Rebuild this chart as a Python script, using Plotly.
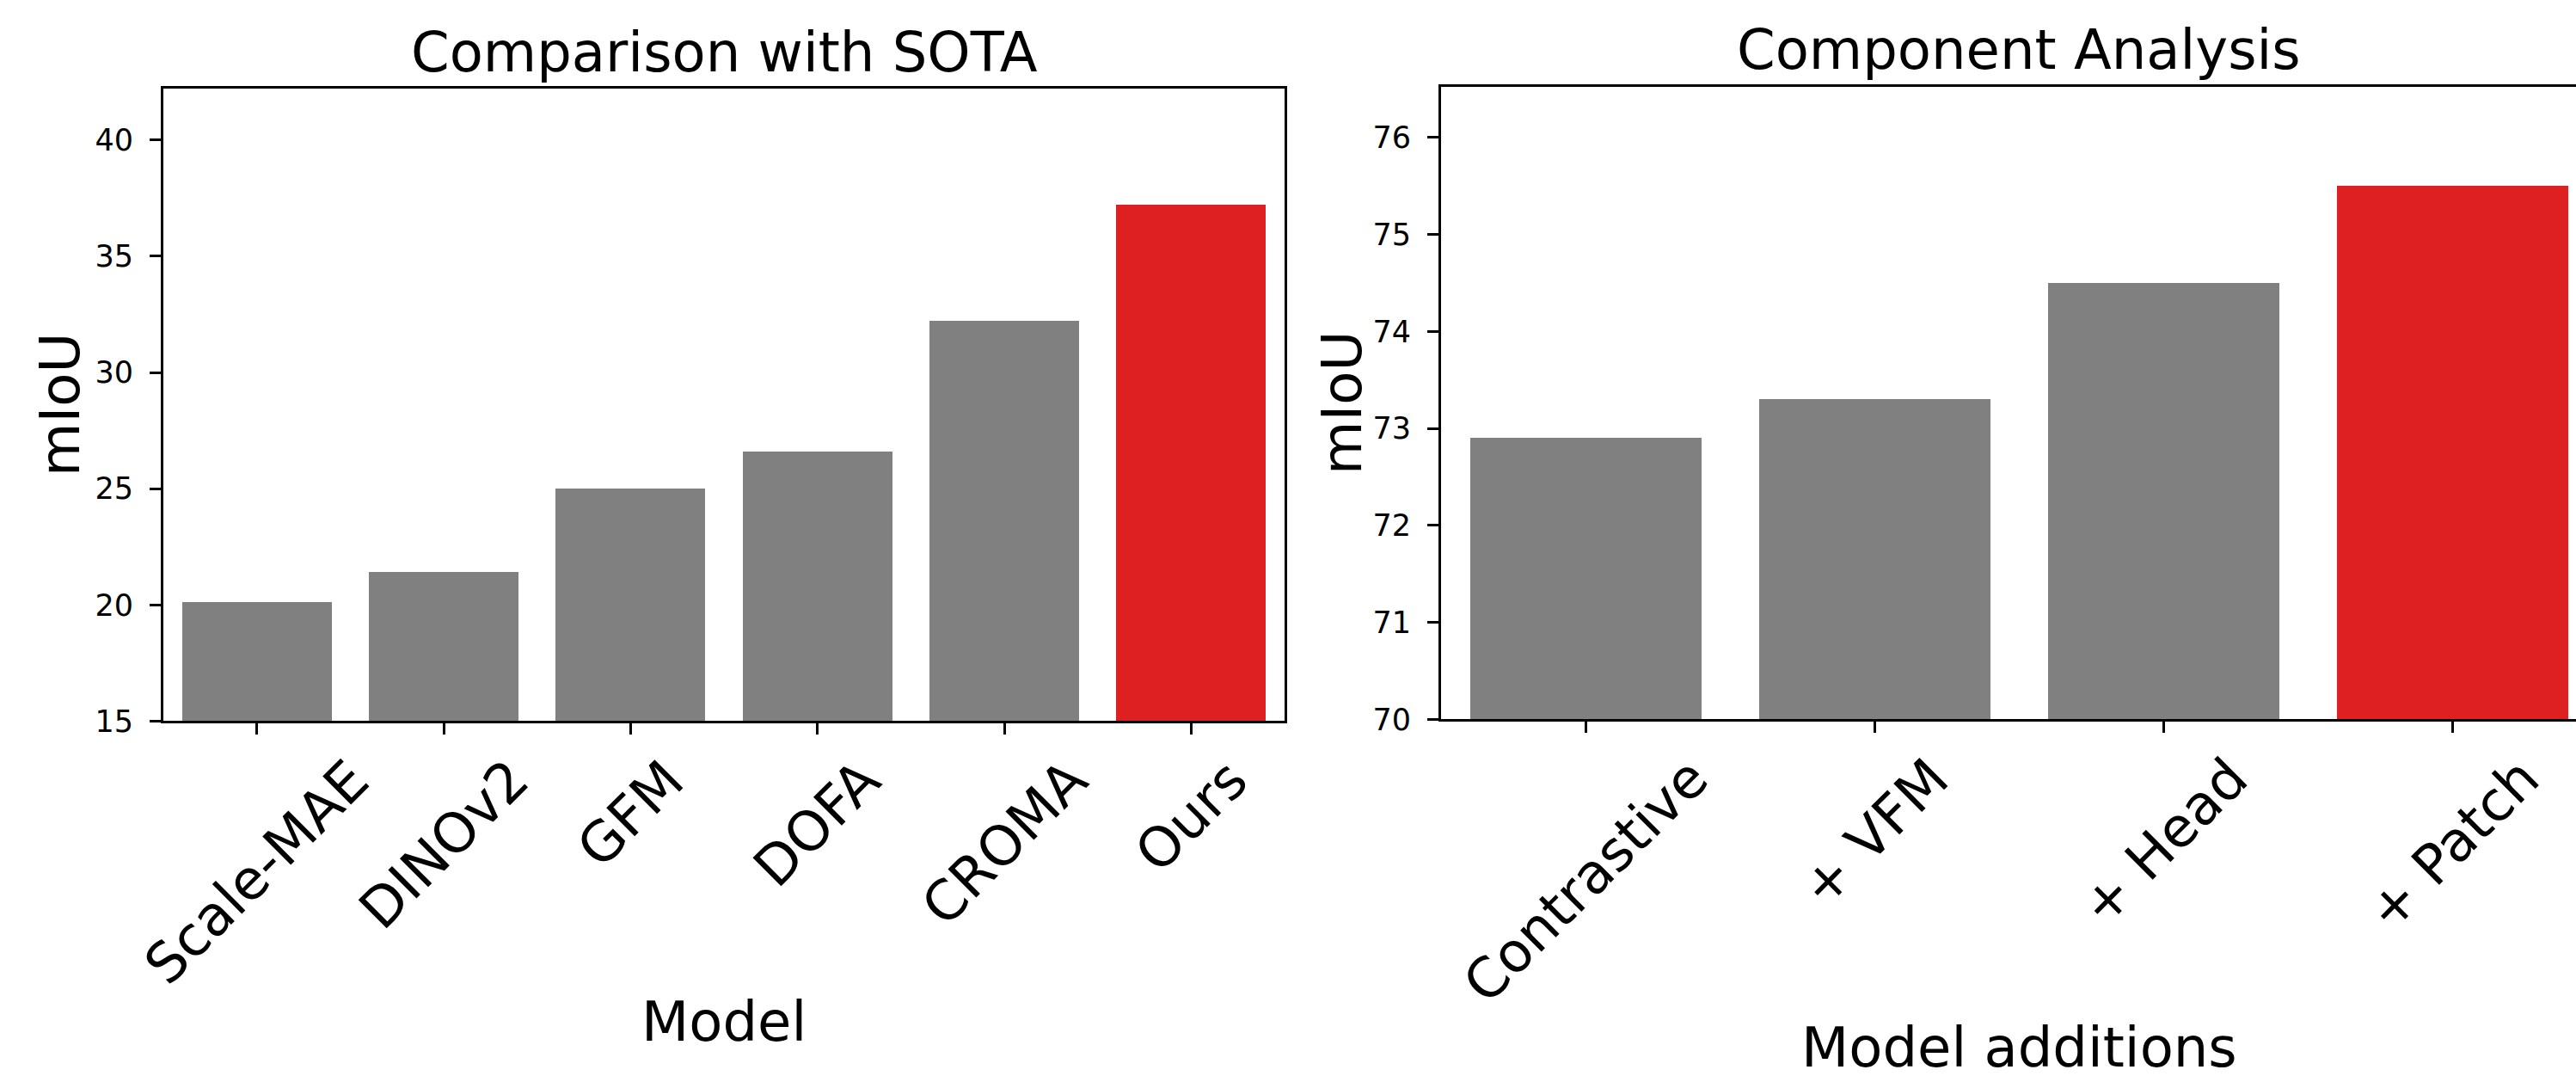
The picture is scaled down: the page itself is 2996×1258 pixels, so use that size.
import plotly.graph_objects as go

# ---------------- data ----------------
models = ["Scale-MAE", "DINOv2", "GFM", "DOFA", "CROMA", "Ours"]
sota_miou = [20.1, 21.4, 25.0, 26.6, 32.2, 37.2]
sota_colors = ["#808080", "#808080", "#808080", "#808080", "#808080", "#DF2020"]

additions = ["Contrastive", "+ VFM", "+ Head", "+ Patch"]
comp_miou = [72.9, 73.3, 74.5, 75.5]
comp_colors = ["#808080", "#808080", "#808080", "#DF2020"]

sota_yticks = [15, 20, 25, 30, 35, 40]
comp_yticks = [70, 71, 72, 73, 74, 75, 76]

W, H = 2996, 1258
FONT = "DejaVu Sans"
BIG = 64
TITLE = 64
SMALL = 35

def px_x(p):
    return p / W

def px_y(p):
    return 1 - p / H

# axes boxes in pixels (left, right, top, bottom)
L1 = (190, 1494, 105, 852)
L2 = (1676, 2996, 103, 850)
L2_FULL_RIGHT = 3020.7  # right spine lies beyond the image edge

fig = go.Figure()
fig.add_trace(go.Bar(x=models, y=sota_miou, marker=dict(color=sota_colors, line=dict(width=0)),
                     width=0.8, xaxis="x", yaxis="y", showlegend=False))
fig.add_trace(go.Bar(x=additions, y=comp_miou, marker=dict(color=comp_colors, line=dict(width=0)),
                     width=0.8, xaxis="x2", yaxis="y2", showlegend=False))

axis_common = dict(showline=True, linecolor="black", linewidth=3, showgrid=False, zeroline=False,
                   ticks="outside", ticklen=13, tickwidth=3, tickcolor="black")

cat_px = (L2_FULL_RIGHT - L2[0]) / 4
clip = 3.5 - (L2_FULL_RIGHT - L2[1]) / cat_px

fig.update_layout(
    width=W, height=H,
    margin=dict(l=0, r=0, t=0, b=0),
    paper_bgcolor="white", plot_bgcolor="white",
    font=dict(family=FONT, color="black"),
    bargap=0,
    xaxis=dict(domain=[px_x(L1[0]), px_x(L1[1])], range=[-0.5, 5.5], mirror=True,
               showticklabels=False, anchor="y", **axis_common),
    yaxis=dict(domain=[px_y(L1[3]), px_y(L1[2])], range=[15, 42.2], tickvals=sota_yticks,
               mirror=True, anchor="x", tickfont=dict(size=SMALL, family=FONT, color="black"),
               ticklabelstandoff=12, **axis_common),
    xaxis2=dict(domain=[px_x(L2[0]), 1.0], range=[-0.5, clip], mirror=True,
                showticklabels=False, anchor="y2", **axis_common),
    yaxis2=dict(domain=[px_y(L2[3]), px_y(L2[2])], range=[70, 76.52], tickvals=comp_yticks,
                mirror=False, anchor="x2", tickfont=dict(size=SMALL, family=FONT, color="black"),
                ticklabelstandoff=12, **axis_common),
)

def txt(size):
    return dict(size=size, family=FONT, color="black")

ann = []
# titles
ann.append(dict(text="Comparison with SOTA", x=px_x((L1[0] + L1[1]) / 2), y=px_y(62),
                xref="paper", yref="paper", xanchor="center", yanchor="middle",
                showarrow=False, font=txt(TITLE)))
ann.append(dict(text="Component Analysis", x=px_x((L2[0] + L2_FULL_RIGHT) / 2), y=px_y(59),
                xref="paper", yref="paper", xanchor="center", yanchor="middle",
                showarrow=False, font=txt(TITLE)))
# y labels
ann.append(dict(text="mIoU", x=px_x(70), y=px_y((L1[2] + L1[3]) / 2), textangle=-90,
                xref="paper", yref="paper", xanchor="center", yanchor="middle",
                showarrow=False, font=txt(BIG)))
ann.append(dict(text="mIoU", x=px_x(1561), y=px_y((L2[2] + L2[3]) / 2), textangle=-90,
                xref="paper", yref="paper", xanchor="center", yanchor="middle",
                showarrow=False, font=txt(BIG)))
# x labels
ann.append(dict(text="Model", x=px_x((L1[0] + L1[1]) / 2), y=px_y(1207),
                xref="paper", yref="paper", xanchor="center", yanchor="middle",
                showarrow=False, font=txt(BIG)))
ann.append(dict(text="Model additions", x=px_x((L2[0] + L2_FULL_RIGHT) / 2), y=px_y(1238),
                xref="paper", yref="paper", xanchor="center", yanchor="middle",
                showarrow=False, font=txt(BIG)))
# rotated x tick labels (centered under ticks, like matplotlib rotation=45)
for m in models:
    ann.append(dict(text=m, x=m, xref="x", y=px_y(L1[3]), yref="paper", yshift=-28,
                    xanchor="center", yanchor="top", textangle=-45, showarrow=False,
                    font=txt(BIG)))
for a in additions:
    ann.append(dict(text=a, x=a, xref="x2", y=px_y(L2[3]), yref="paper", yshift=-28,
                    xanchor="center", yanchor="top", textangle=-45, showarrow=False,
                    font=txt(BIG)))
fig.update_layout(annotations=ann)

fig.write_html("out.html", config={"displayModeBar": False},
               post_script="document.body.style.margin='0';document.body.style.overflow='hidden';")
